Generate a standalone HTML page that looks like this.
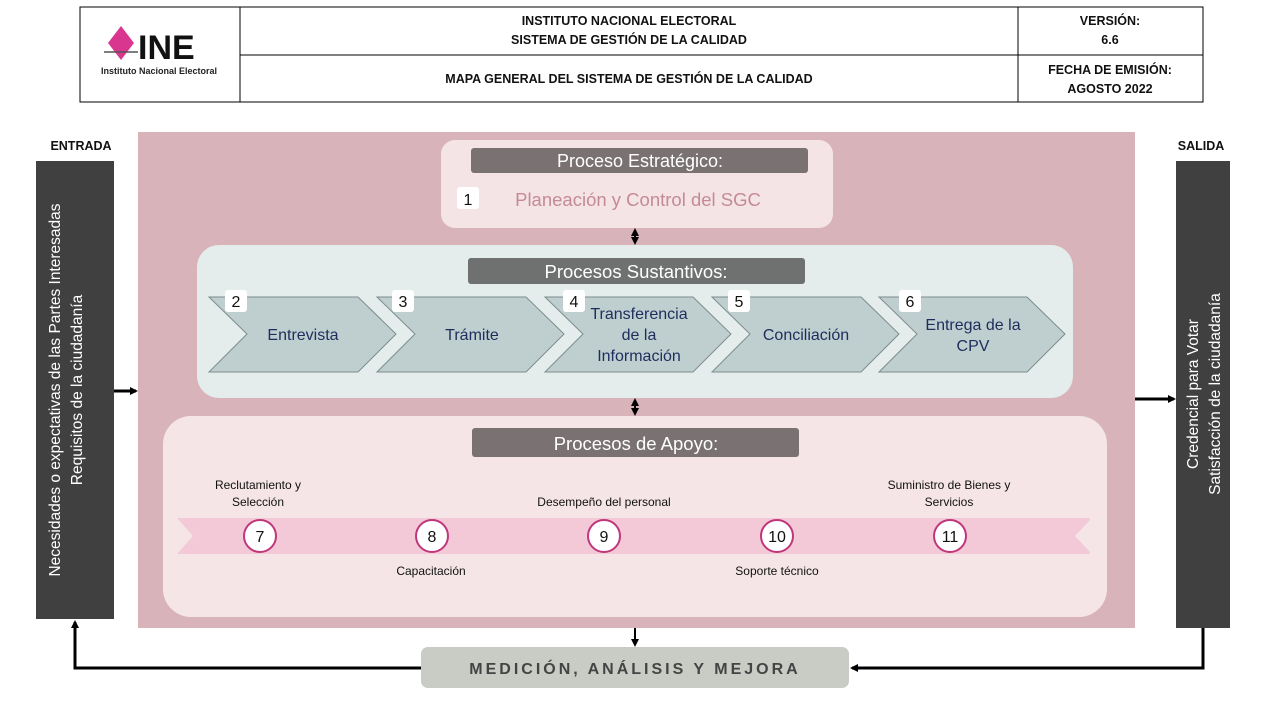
<!DOCTYPE html>
<html><head><meta charset="utf-8"><style>
html,body{margin:0;padding:0;background:#fff;width:1280px;height:720px;overflow:hidden}
svg text{font-family:"Liberation Sans",sans-serif}
</style></head><body>
<svg width="1280" height="720" viewBox="0 0 1280 720" xmlns="http://www.w3.org/2000/svg">
<defs>
<marker id="ah" markerWidth="8" markerHeight="8" refX="6" refY="4" orient="auto-start-reverse" markerUnits="userSpaceOnUse"><path d="M0,0 L8,4 L0,8 z" fill="#000"/></marker>
</defs>
<!-- header -->
<rect x="80" y="7" width="1123" height="95" fill="#fff" stroke="#000" stroke-width="1"/>
<line x1="240" y1="7" x2="240" y2="102" stroke="#000"/>
<line x1="1018" y1="7" x2="1018" y2="102" stroke="#000"/>
<line x1="240" y1="55" x2="1203" y2="55" stroke="#000"/>
<polygon points="121,26 134,43 121,60 108,43" fill="#d9368f"/>
<line x1="104" y1="52" x2="138" y2="52" stroke="#555" stroke-width="1.5"/>
<text x="138" y="59" font-size="34" font-weight="bold" fill="#111">INE</text>
<text x="159" y="74" font-size="9" font-weight="bold" text-anchor="middle" fill="#222">Instituto Nacional Electoral</text>
<g font-size="12.5" font-weight="bold" text-anchor="middle" fill="#111">
<text x="629" y="25">INSTITUTO NACIONAL ELECTORAL</text>
<text x="629" y="44">SISTEMA DE GESTIÓN DE LA CALIDAD</text>
<text x="629" y="83">MAPA GENERAL DEL SISTEMA DE GESTIÓN DE LA CALIDAD</text>
<text x="1110" y="25">VERSIÓN:</text>
<text x="1110" y="44">6.6</text>
<text x="1110" y="74">FECHA DE EMISIÓN:</text>
<text x="1110" y="93">AGOSTO 2022</text>
<text x="81" y="150">ENTRADA</text>
<text x="1201" y="150">SALIDA</text>
</g>
<!-- side bars -->
<rect x="36" y="161" width="78" height="458" fill="#404040"/>
<rect x="1176" y="161" width="54" height="467" fill="#404040"/>
<g fill="#fff" font-size="15.5" text-anchor="middle">
<text transform="translate(60,390) rotate(-90)">Necesidades o expectativas de las Partes Interesadas</text>
<text transform="translate(82,390) rotate(-90)">Requisitos de la ciudadanía</text>
<text transform="translate(1198,394) rotate(-90)">Credencial para Votar</text>
<text transform="translate(1220,394) rotate(-90)">Satisfacción de la ciudadanía</text>
</g>
<!-- main -->
<rect x="138" y="132" width="997" height="496" fill="#d9b3ba"/>
<line x1="114" y1="391" x2="136" y2="391" stroke="#000" stroke-width="3" marker-end="url(#ah)"/>
<line x1="1135" y1="399" x2="1174" y2="399" stroke="#000" stroke-width="3" marker-end="url(#ah)"/>
<!-- estrategico -->
<rect x="441" y="140" width="392" height="88" rx="14" fill="#f5e4e6"/>
<rect x="471" y="148" width="337" height="25" rx="3" fill="#7a7272"/>
<text x="640" y="167" font-size="18" fill="#fff" text-anchor="middle">Proceso Estratégico:</text>
<rect x="457" y="187" width="22" height="22" rx="3" fill="#fff"/>
<text x="468" y="205" font-size="16" text-anchor="middle" fill="#111">1</text>
<text x="638" y="206" font-size="18.5" fill="#c48a97" text-anchor="middle">Planeación y Control del SGC</text>
<line x1="635" y1="230" x2="635" y2="243" stroke="#000" stroke-width="2" marker-end="url(#ah)" marker-start="url(#ah)"/>
<!-- sustantivos -->
<rect x="197" y="245" width="876" height="153" rx="22" fill="#e4ecec"/>
<rect x="468" y="258" width="337" height="26" rx="3" fill="#6f7171"/>
<text x="636" y="278" font-size="18.5" fill="#fff" text-anchor="middle">Procesos Sustantivos:</text>
<g fill="#bfcecf" stroke="#7d8c8c" stroke-width="1">
<polygon points="209,297 358,297 396,334 358,372 209,372 247,334"/>
<polygon points="377,297 526,297 564,334 526,372 377,372 415,334"/>
<polygon points="545,297 693,297 731,334 693,372 545,372 583,334"/>
<polygon points="712,297 861,297 899,334 861,372 712,372 750,334"/>
<polygon points="879,297 1027,297 1065,334 1027,372 879,372 917,334"/>
</g>
<g fill="#fff"><rect x="225" y="290" width="22" height="22" rx="3"/><rect x="392" y="290" width="22" height="22" rx="3"/><rect x="563" y="290" width="22" height="22" rx="3"/><rect x="728" y="290" width="22" height="22" rx="3"/><rect x="899" y="290" width="22" height="22" rx="3"/></g>
<g font-size="16" fill="#111" text-anchor="middle"><text x="236" y="307">2</text><text x="403" y="307">3</text><text x="574" y="307">4</text><text x="739" y="307">5</text><text x="910" y="307">6</text></g>
<g font-size="16" fill="#1f2d5c" text-anchor="middle">
<text x="303" y="340">Entrevista</text>
<text x="472" y="340">Trámite</text>
<text x="639" y="319">Transferencia</text><text x="639" y="340">de la</text><text x="639" y="361">Información</text>
<text x="806" y="340">Conciliación</text>
<text x="973" y="330">Entrega de la</text><text x="973" y="351">CPV</text>
</g>
<line x1="635" y1="400" x2="635" y2="414" stroke="#000" stroke-width="2" marker-end="url(#ah)" marker-start="url(#ah)"/>
<!-- apoyo -->
<rect x="163" y="416" width="944" height="201" rx="28" fill="#f5e5e7"/>
<rect x="472" y="428" width="327" height="29" rx="3" fill="#7a7272"/>
<text x="636" y="450" font-size="18.5" fill="#fff" text-anchor="middle">Procesos de Apoyo:</text>
<polygon points="177,518 1090,518 1090,520 1075,536 1090,552 1090,554 177,554 193,536" fill="#f3c9d8"/>
<g fill="#fff" stroke="#c0367a" stroke-width="2">
<circle cx="260" cy="536" r="16"/><circle cx="432" cy="536" r="16"/><circle cx="604" cy="536" r="16"/><circle cx="777" cy="536" r="16"/><circle cx="950" cy="536" r="16"/>
</g>
<g font-size="16" fill="#111" text-anchor="middle">
<text x="260" y="542">7</text><text x="432" y="542">8</text><text x="604" y="542">9</text><text x="777" y="542">10</text><text x="950" y="542">11</text>
</g>
<g font-size="12" fill="#111" text-anchor="middle">
<text x="258" y="489">Reclutamiento y</text><text x="258" y="506">Selección</text>
<text x="604" y="506">Desempeño del personal</text>
<text x="949" y="489">Suministro de Bienes y</text><text x="949" y="506">Servicios</text>
<text x="431" y="575">Capacitación</text>
<text x="777" y="575">Soporte técnico</text>
</g>
<!-- medicion -->
<line x1="635" y1="628" x2="635" y2="645" stroke="#000" stroke-width="2" marker-end="url(#ah)"/>
<rect x="421" y="647" width="428" height="41" rx="7" fill="#c8ccc4"/>
<text x="635" y="674" font-size="16" font-weight="bold" fill="#444" text-anchor="middle" letter-spacing="3">MEDICIÓN, ANÁLISIS Y MEJORA</text>
<polyline points="421,668 75,668 75,622" fill="none" stroke="#000" stroke-width="3" marker-end="url(#ah)"/>
<polyline points="1203,628 1203,668 852,668" fill="none" stroke="#000" stroke-width="3" marker-end="url(#ah)"/>
</svg>
</body></html>
